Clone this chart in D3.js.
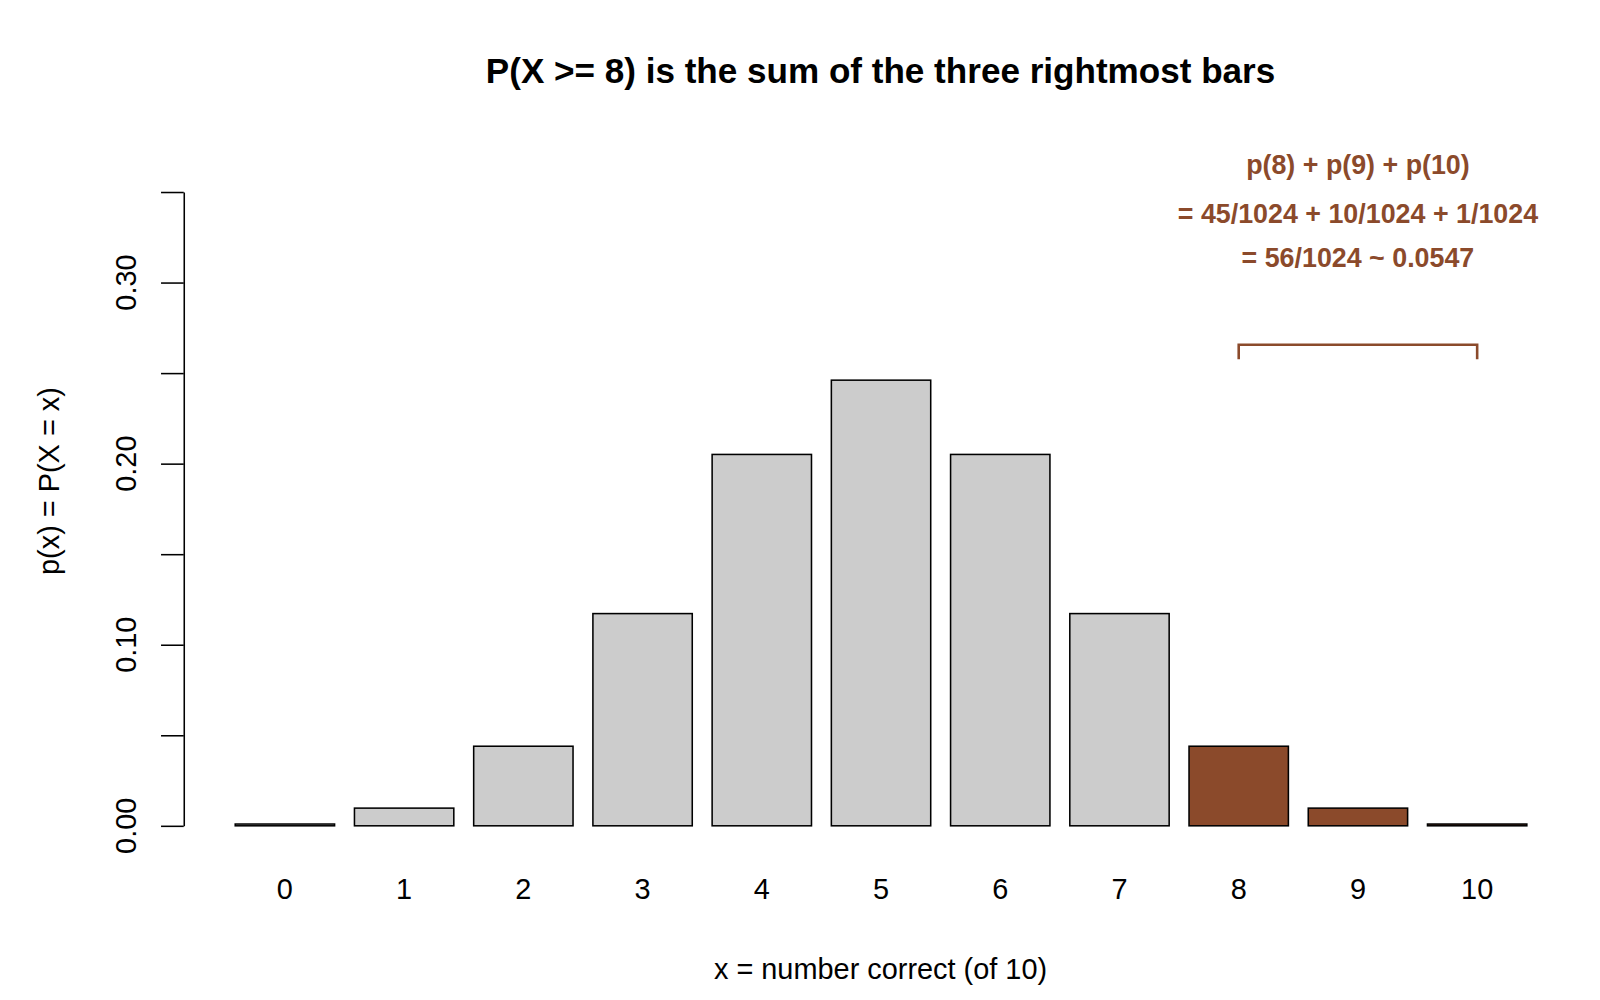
<!DOCTYPE html>
<html><head><meta charset="utf-8">
<script src="https://cdn.jsdelivr.net/npm/d3@7"></script>
<style>body{margin:0;background:#fff}text{font-family:"Liberation Sans",Arial,sans-serif}</style>
</head><body><svg id="c" width="1600" height="1000"></svg>
<script>
const categories = [0,1,2,3,4,5,6,7,8,9,10];
const counts = [1,10,45,120,210,252,210,120,45,10,1];
const probs = counts.map(c => c/1024);
const highlighted = [8,9,10];
const yTicks = [0,0.05,0.10,0.15,0.20,0.25,0.30,0.35];
const yTickLabels = ["0.00","","0.10","","0.20","","0.30",""];
const annotation = ["p(8) + p(9) + p(10)","= 45/1024 + 10/1024 + 1/1024","= 56/1024 ~ 0.0547"];
const brown = "#8B4A2B";

const svg = d3.select("#c").append("g").attr("transform",`scale(${1600/1550})`);
const y = d3.scaleLinear().domain([0,0.35]).range([800,186]);
const step = 115.5;
const x = d3.scaleBand().domain(categories).range([276-step/2, 1431+step/2]).paddingInner(1/6).paddingOuter(1/12);

svg.append("text").attr("x",853).attr("y",80).attr("text-anchor","middle")
  .attr("font-size",34).attr("font-weight","bold").text("P(X >= 8) is the sum of the three rightmost bars");

svg.selectAll("rect.bar").data(categories).enter().append("rect")
  .attr("x",d=>x(d)).attr("width",x.bandwidth())
  .attr("y",(d,i)=>y(probs[i])).attr("height",(d,i)=>y(0)-y(probs[i]))
  .attr("fill",d=>highlighted.includes(d)?brown:"#cccccc").attr("stroke","#000").attr("stroke-width",1.5);

const ax = svg.append("g").attr("transform","translate(178,0)")
  .call(d3.axisLeft(y).tickValues(yTicks).tickFormat("").tickSize(22).tickSizeOuter(0));
ax.selectAll("path,line").attr("stroke","#000").attr("stroke-width",1.5);
yTicks.forEach((t,i)=>{ if(yTickLabels[i]) svg.append("text")
  .attr("transform",`translate(132,${y(t)}) rotate(-90)`).attr("text-anchor","middle")
  .attr("font-size",28).text(yTickLabels[i]); });

categories.forEach(c=>svg.append("text").attr("x",x(c)+x.bandwidth()/2).attr("y",871)
  .attr("text-anchor","middle").attr("font-size",28).text(c));

svg.append("text").attr("x",853).attr("y",948).attr("text-anchor","middle").attr("font-size",28)
  .text("x = number correct (of 10)");
svg.append("text").attr("transform","translate(57,466) rotate(-90)").attr("text-anchor","middle")
  .attr("font-size",28).text("p(x) = P(X = x)");

const bx0 = x(8)+x.bandwidth()/2, bx1 = x(10)+x.bandwidth()/2;
svg.append("path").attr("d",`M${bx0},348V334H${bx1}V348`).attr("fill","none").attr("stroke",brown).attr("stroke-width",2.5);
annotation.forEach((t,i)=>svg.append("text").attr("x",(bx0+bx1)/2).attr("y",[169,216,259][i])
  .attr("text-anchor","middle").attr("font-size",26).attr("font-weight","bold").attr("fill",brown).text(t));
</script></body></html>
